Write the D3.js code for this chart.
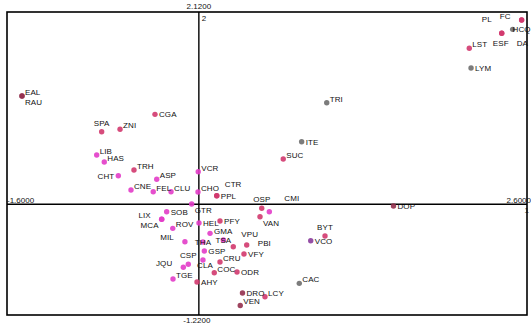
<!DOCTYPE html>
<html><head><meta charset="utf-8">
<script src="https://cdn.jsdelivr.net/npm/d3@7"></script>
<style>body{margin:0;background:#fff}</style></head>
<body><svg id="c" width="531" height="324"></svg>
<script>
const labels = ["EAL","RAU","CGA","SPA","ZNI","LIB","HAS","TRH","CHT","ASP","CNE","FEL","CLU","VCR","TRI","ITE","SUC","CHO","CTR","PPL","OSP","CMI","VAN","DOP","BYT","VCO","CAC","LCY","DRO","VEN","ODR","COC","CRU","CLA","CSP","JQU","TGE","AHY","GSP","THA","GMA","TSA","HEL","PFY","VPU","VFY","PBI","GTR","SOB","LIX","MCA","ROV","MIL","HCQ","FC","PL","ESF","DA","LST","LYM"];
const xValues = [-1.423,-1.423,-0.353,-0.782,-0.634,-0.822,-0.761,-0.522,-0.648,-0.339,-0.546,-0.367,-0.224,-0.005,1.029,0.827,0.679,-0.007,0.144,0.144,0.506,0.567,0.492,1.566,1.015,0.900,0.808,0.532,0.351,0.333,0.307,0.124,0.170,0.033,-0.085,-0.125,-0.208,-0.015,0.044,0.033,0.090,0.197,0.001,0.170,0.277,0.363,0.385,-0.058,-0.259,-0.299,-0.299,-0.210,-0.112,2.597,2.597,2.437,2.437,2.525,2.176,2.190];
const yValues = [1.194,1.194,0.992,0.800,0.827,0.543,0.466,0.378,0.315,0.276,0.158,0.139,0.139,0.359,1.120,0.690,0.499,0.136,0.095,0.095,-0.044,-0.082,-0.137,-0.019,-0.349,-0.401,-0.871,-1.019,-0.978,-1.116,-0.746,-0.754,-0.636,-0.614,-0.661,-0.694,-0.823,-0.856,-0.515,-0.416,-0.320,-0.394,-0.206,-0.184,-0.467,-0.548,-0.449,0.003,-0.082,-0.165,-0.165,-0.265,-0.412,2.032,2.032,1.885,1.885,1.929,1.720,1.502];
const groups = ["m","m","r","r","r","p","p","r","p","p","p","p","p","p","g","g","r","p","r","r","r","p","r","m","r","v","g","r","m","m","r","r","r","p","p","p","p","r","p","p","p","p","p","r","r","r","r","p","p","p","p","p","p","r","r","r","r","g","r","g"];
const placements = ["NE","SE","E","N","NE","NE","NE","NE","W","NE","NE","NE","NE","NE","NE","E","NE","NE","NE2","E","N","NE3","SE","E","N","E","NE","NE","E","NE","E","NE","NE","S1","N","W2","NE","E","E","C","E1","C","E","E","NE2","E","E2","SE","E","W2","SW","NE","W2","S","W2","NW2","S2","SE2","NE","E"];
const xDomain = [-1.6, 2.6];
const yDomain = [-1.22, 2.12];
const xLimitLabels = ["-1.6000","2.6000"];
const yLimitLabels = ["-1.2200","2.1200"];
const axisNumbers = ["1","2"];

const groupKeys = ["p","r","m","g","v"];
const groupColors = ["#e23cc8","#d2386e","#93304e","#6e6e6e","#8a3c9c"];
const offsets = {E:[4,0,"start"],E1:[4,-2,"start"],NE:[3,-4,"start"],SE:[3,6,"start"],W:[-4,0,"end"],SW:[-3,6,"end"],NW:[-3,-5,"end"],N:[0,-9,"middle"],S:[0,9,"middle"],S1:[2,5,"middle"],S2:[-1,10,"middle"],C:[0,0,"middle"],NE2:[8,-12,"start"],NE3:[15,-14,"start"],E2:[11,-2,"start"],SE2:[4,14,"start"],W2:[-11,-4,"end"],NW2:[-10,-14,"end"]};

const svg = d3.select("#c");
const L = 7, R = 527, T = 12, B = 315;
const x = d3.scaleLinear().domain(xDomain).range([0, 522]);
const y = d3.scaleLinear().domain(yDomain).range([B, T]);
const color = d3.scaleOrdinal().domain(groupKeys).range(groupColors);
const font = "'Liberation Sans', Arial, sans-serif";

svg.append("rect").attr("width",531).attr("height",324).attr("fill","#fff");
svg.append("rect").attr("x",L).attr("y",T).attr("width",R-L).attr("height",B-T)
  .attr("fill","none").attr("stroke","#000").attr("stroke-width",1.6);
svg.append("line").attr("x1",L).attr("x2",R).attr("y1",y(0)).attr("y2",y(0)).attr("stroke","#000").attr("stroke-width",1.4);
svg.append("line").attr("x1",x(0)).attr("x2",x(0)).attr("y1",T).attr("y2",B).attr("stroke","#000").attr("stroke-width",1.4);

const txt = (t, px, py, anchor) => svg.append("text").attr("x",px).attr("y",py).attr("text-anchor",anchor)
  .attr("font-family",font).attr("font-size","8px").attr("fill","#111").text(t);
txt(yLimitLabels[1], x(0), 9, "middle");
txt(axisNumbers[1], x(0)+3, 21, "start");
txt(yLimitLabels[0], x(0)-2, 323, "middle");
txt(xLimitLabels[0], L, y(0)-1.5, "start");
txt(xLimitLabels[1], 531, y(0)-1.5, "end");
txt(axisNumbers[0], 529, y(0)+9, "end");

const data = labels.map((l,i)=>({label:l, x:xValues[i], y:yValues[i], g:groups[i], p:placements[i]}));

svg.append("g").selectAll("circle").data(data).join("circle")
  .attr("cx",d=>x(d.x)).attr("cy",d=>y(d.y)).attr("r",2.7)
  .attr("fill",d=>color(d.g)).attr("opacity",0.9);

svg.append("g").selectAll("text").data(data).join("text")
  .attr("x",d=>x(d.x)+offsets[d.p][0])
  .attr("y",d=>y(d.y)+offsets[d.p][1])
  .attr("dy","0.35em")
  .attr("text-anchor",d=>offsets[d.p][2])
  .attr("font-family",font).attr("font-size","8px").attr("letter-spacing","0.1px")
  .attr("fill","#111").text(d=>d.label);
</script></body></html>
